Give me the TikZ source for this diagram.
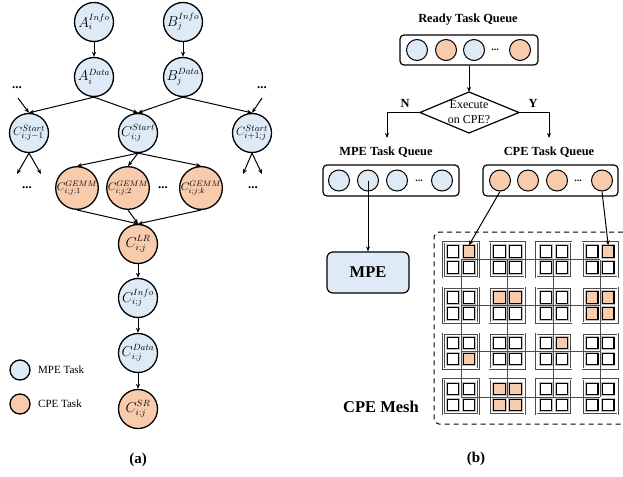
\documentclass[tikz,border=0pt]{standalone}
\usepackage{fontspec}
\setmainfont{Liberation Serif}
\usetikzlibrary{arrows.meta}
\definecolor{mpeblue}{HTML}{DEEBF7}
\definecolor{cpeorange}{HTML}{F8CBAD}
\begin{document}
\begin{tikzpicture}[x=1pt,y=-1pt,
  tnode/.style={circle,draw,line width=1.3pt,minimum size=39pt,inner sep=0pt,font=\fontsize{13.5}{14}\selectfont},
  mpe/.style={tnode,fill=mpeblue},
  cpe/.style={tnode,fill=cpeorange},
  gemm/.style={cpe,font=\fontsize{11}{12}\selectfont},
  arr/.style={-{Stealth[length=5pt,width=4pt]},line width=1pt},
  dotsl/.style={font=\bfseries\fontsize{13}{13}\selectfont,inner sep=0pt},
  qdots/.style={font=\bfseries\fontsize{10}{10}\selectfont,inner sep=0pt},
  qbox/.style={draw,rounded corners=4pt,line width=1.2pt},
  qcirc/.style={circle,draw,line width=1pt,minimum size=21pt,inner sep=0pt},
  legc/.style={circle,draw,line width=1.3pt,minimum size=20pt,inner sep=0pt},
  legt/.style={anchor=west,font=\fontsize{11}{12}\selectfont,inner sep=0pt},
  title/.style={font=\bfseries\fontsize{12.4}{14}\selectfont,inner sep=0pt},
  sub/.style={font=\bfseries\fontsize{15}{16}\selectfont,inner sep=0pt},
  grp/.style={rectangle,draw=black!70,line width=0.6pt,double=white,double distance=0.9pt,minimum size=35pt,inner sep=0pt},
  cellbox/.style={rectangle,draw=black,line width=1.1pt,fill=white,minimum size=11.5pt,inner sep=0pt,
    preaction={draw=gray!50,line width=3pt}},
  cell 0-0-tr/.style={fill=cpeorange},
  cell 0-3-tr/.style={fill=cpeorange},
  cell 1-1-tl/.style={fill=cpeorange},
  cell 1-1-tr/.style={fill=cpeorange},
  cell 1-3-tl/.style={fill=cpeorange},
  cell 1-3-tr/.style={fill=cpeorange},
  cell 1-3-bl/.style={fill=cpeorange},
  cell 1-3-br/.style={fill=cpeorange},
  cell 2-0-br/.style={fill=cpeorange},
  cell 2-2-tr/.style={fill=cpeorange},
  cell 3-1-tl/.style={fill=cpeorange},
  cell 3-1-tr/.style={fill=cpeorange},
  cell 3-1-bl/.style={fill=cpeorange},
  cell 3-1-br/.style={fill=cpeorange},
]
\useasboundingbox (0,0) rectangle (623,476);

% ---------------- (a) task graph ----------------
\node[mpe] (Ai) at (94,22) {$A_i^{Info}$};
\node[mpe] (Bi) at (183,22) {$B_j^{Info}$};
\node[mpe] (Ad) at (94,77) {$A_i^{Data}$};
\node[mpe] (Bd) at (183,77) {$B_j^{Data}$};
\node[mpe,font=\fontsize{12.5}{13}\selectfont] (Cs1) at (29,133) {$C_{i;j-1}^{Start}$};
\node[mpe] (Cs2) at (138,133) {$C_{i;j}^{Start}$};
\node[mpe,font=\fontsize{12.5}{13}\selectfont] (Cs3) at (252,133) {$C_{i+1;j}^{Start}$};
\node[dotsl] (dl) at (17,88) {...};
\node[dotsl] (dr) at (262,88) {...};
\node[gemm] (G1) at (77,188) {$C_{i;j;1}^{GEMM}$};
\node[gemm] (G2) at (128,188) {$C_{i;j;2}^{GEMM}$};
\node[dotsl] (gd) at (163,188) {...};
\node[gemm] (G3) at (201,188) {$C_{i;j;k}^{GEMM}$};
\node[dotsl] (dbl) at (27,188) {...};
\node[dotsl] (dbr) at (253,188) {...};
\node[cpe] (LR) at (138,244) {$C_{i;j}^{LR}$};
\node[mpe] (Ci) at (138,298) {$C_{i;j}^{Info}$};
\node[mpe] (Cd) at (138,353) {$C_{i;j}^{Data}$};
\node[cpe] (SR) at (138,409) {$C_{i;j}^{SR}$};

\coordinate (dlS) at (18,98);
\coordinate (drS) at (262,98);
\coordinate (l1) at (17,174);
\coordinate (l2) at (41,174);
\coordinate (r1) at (243,174);
\coordinate (r2) at (262,174);

\draw[arr] (Ai) -- (Ad);
\draw[arr] (Bi) -- (Bd);
\draw[arr] (Ad.south) -- (Cs1.north);
\draw[arr] (Ad.south) -- (Cs2.north);
\draw[arr] (Bd.south) -- (Cs2.north);
\draw[arr] (Bd.south) -- (Cs3.north);
\draw[arr] (dlS) -- (Cs1.north);
\draw[arr] (drS) -- (Cs3.north);
\draw[arr] (Cs1.south) -- (l1);
\draw[arr] (Cs1.south) -- (l2);
\draw[arr] (Cs3.south) -- (r1);
\draw[arr] (Cs3.south) -- (r2);
\draw[arr] (Cs2.south) -- (G1.north);
\draw[arr] (Cs2.south) -- (G2.north);
\draw[arr] (Cs2.south) -- (G3.north);
\draw[arr] (G1.south) -- (LR.north);
\draw[arr] (G2.south) -- (LR.north);
\draw[arr] (G3.south) -- (LR.north);
\draw[arr] (LR) -- (Ci);
\draw[arr] (Ci) -- (Cd);
\draw[arr] (Cd) -- (SR);

% legend
\node[legc,fill=mpeblue] (lm) at (20,370) {};
\node[legt] (lmt) at (38,370) {MPE Task};
\node[legc,fill=cpeorange] (lc) at (20,404) {};
\node[legt] (lct) at (38,404) {CPE Task};

\node[sub] (la) at (138,460) {(a)};

% ---------------- (b) scheduling ----------------
\node[title] (rqt) at (468,20) {Ready Task Queue};
\node[qbox,minimum width=138pt,minimum height=30pt] (rq) at (469,50) {};
\node[qcirc,fill=mpeblue] (rq1) at (417,50) {};
\node[qcirc,fill=cpeorange] (rq2) at (446,50) {};
\node[qcirc,fill=mpeblue] (rq3) at (474,50) {};
\node[qdots] (rqd) at (495,50) {...};
\node[qcirc,fill=cpeorange] (rq4) at (520,50) {};

\coordinate (dT) at (469,92);
\coordinate (dR) at (519,112.5);
\coordinate (dB) at (469,133);
\coordinate (dL) at (420,112.5);
\draw[line width=1.2pt,line join=miter] (dT) -- (dR) -- (dB) -- (dL) -- cycle;
\node[align=center,font=\fontsize{12}{15}\selectfont,inner sep=0pt] (dec) at (469,112.5) {Execute\\on CPE?};
\draw[arr] (rq.south) -- (dT);

\coordinate (nE) at (387,138);
\coordinate (yE) at (549,138);
\draw[arr] (dL) -| (nE);
\draw[arr] (dR) -| (yE);
\node[title] (nlab) at (405,103) {N};
\node[title] (ylab) at (533,103) {Y};

\node[title] (mqt) at (386,152) {MPE Task Queue};
\node[title] (cqt) at (549,152) {CPE Task Queue};

\node[qbox,minimum width=136pt,minimum height=31pt] (mq) at (391,180.5) {};
\node[qcirc,fill=mpeblue] (mq1) at (339,180.5) {};
\node[qcirc,fill=mpeblue] (mq2) at (368,180.5) {};
\node[qcirc,fill=mpeblue] (mq3) at (397,180.5) {};
\node[qdots] (mqd) at (419,180.5) {...};
\node[qcirc,fill=mpeblue] (mq4) at (442,180.5) {};

\node[qbox,minimum width=135pt,minimum height=31pt] (cq) at (550.5,180.5) {};
\node[qcirc,fill=cpeorange] (cq1) at (500,180.5) {};
\node[qcirc,fill=cpeorange] (cq2) at (528,180.5) {};
\node[qcirc,fill=cpeorange] (cq3) at (557,180.5) {};
\node[qdots] (cqd) at (578,180.5) {...};
\node[qcirc,fill=cpeorange] (cq4) at (602,180.5) {};

\node[draw,fill=mpeblue,rounded corners=6pt,line width=1.2pt,minimum width=82pt,minimum height=41pt,
  font=\bfseries\fontsize{16.5}{18}\selectfont] (mpeb) at (368,272.5) {MPE};
\draw[arr] (mq2.center) -- (mpeb.north);

% mesh
\draw[line width=1pt,dash pattern=on 5pt off 4pt,rounded corners=5pt] (623,232) -- (434,232) -- (434,424) -- (623,424);
\node[font=\bfseries\fontsize{16.5}{18}\selectfont,inner sep=0pt] (meshl) at (381,407) {CPE Mesh};

\foreach \r in {0,...,3}{
  \foreach \c in {0,...,3}{
    \pgfmathsetmacro\gx{461+46.4*\c}
    \pgfmathsetmacro\gy{259.5+45.8*\r}
    \node[grp] (g-\r-\c) at (\gx,\gy) {};
  }
}
\foreach \r in {0,...,3}{
  \draw[black!70,line width=0.7pt] (g-\r-0.center) -- (g-\r-3.center);
  \draw[black!70,line width=0.7pt] (g-0-\r.center) -- (g-3-\r.center);
}
\foreach \r in {0,...,3}{
  \foreach \c in {0,...,3}{
    \node[cellbox,cell \r-\c-tl/.try] (cell-\r-\c-tl) at ([shift={(-8,-8)}]g-\r-\c.center) {};
    \node[cellbox,cell \r-\c-tr/.try] (cell-\r-\c-tr) at ([shift={(8,-8)}]g-\r-\c.center) {};
    \node[cellbox,cell \r-\c-bl/.try] (cell-\r-\c-bl) at ([shift={(-8,8)}]g-\r-\c.center) {};
    \node[cellbox,cell \r-\c-br/.try] (cell-\r-\c-br) at ([shift={(8,8)}]g-\r-\c.center) {};
  }
}
\draw[arr] (cq1.south) -- (cell-0-0-tr.north);
\draw[arr] (cq4.south) -- (cell-0-3-tr.north);

\node[sub] (lb) at (476,459) {(b)};
\end{tikzpicture}
\end{document}
